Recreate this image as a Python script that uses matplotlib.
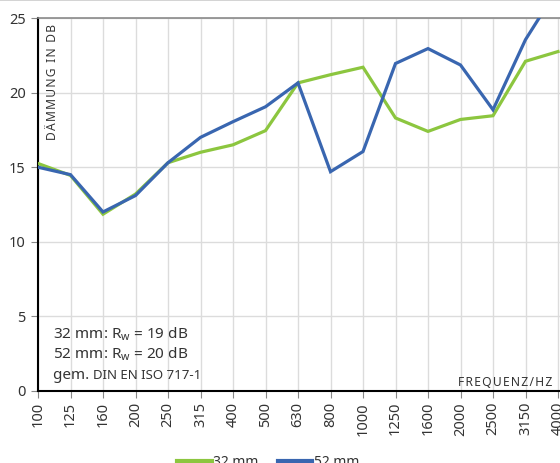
import matplotlib.pyplot as plt
from matplotlib.lines import Line2D

plt.rcParams['font.family'] = ['Noto Sans', 'DejaVu Sans']
plt.rcParams['mathtext.fontset'] = 'custom'
plt.rcParams['mathtext.rm'] = 'Noto Sans'
plt.rcParams['mathtext.it'] = 'Noto Sans'

freqs = ['100', '125', '160', '200', '250', '315', '400', '500', '630', '800',
         '1000', '1250', '1600', '2000', '2500', '3150', '4000']
mm32 = [15.25, 14.45, 11.85, 13.2, 15.3, 16.0, 16.5, 17.45, 20.65, 21.2,
        21.7, 18.3, 17.4, 18.2, 18.45, 22.1, 22.75]
mm52 = [15.0, 14.5, 12.0, 13.1, 15.3, 17.0, 18.05, 19.05, 20.65, 14.7,
        16.05, 21.95, 22.95, 21.85, 18.85, 23.55, 27.0]

green = '#8cc63f'
blue = '#3966b0'
txt = '#333333'


def spaced(s, sep='\u200a'):
    # fake letter spacing with hair spaces
    return sep.join(s)


fig = plt.figure(figsize=(5.6, 4.63), dpi=100)
ax = fig.add_axes([38 / 560, 1 - 391 / 463, 1 - 38 / 560, (391 - 18) / 463])

x = range(len(freqs))
ax.plot(x, mm32, color=green, lw=2.3, solid_joinstyle='miter', zorder=3)
ax.plot(x, mm52, color=blue, lw=2.3, solid_joinstyle='miter', zorder=4)

ax.set_xlim(0, 16 + 2 / 32.5)
ax.set_ylim(0, 25)
ax.set_xticks(list(x))
ax.set_xticklabels(freqs, rotation=90, fontsize=10.5, color=txt)
ax.set_yticks([0, 5, 10, 15, 20, 25])
ax.set_yticklabels(['0', '5', '10', '15', '20', '25'], fontsize=10.5, color=txt)
ax.tick_params(axis='both', length=5, width=0.8, color='#888888', pad=4)
ax.tick_params(axis='x', pad=3)
ax.grid(True, color='#dcdcdc', lw=1)
ax.set_axisbelow(True)

ax.spines['left'].set_color('black')
ax.spines['left'].set_linewidth(1.5)
ax.spines['bottom'].set_color('black')
ax.spines['bottom'].set_linewidth(1.5)
ax.spines['top'].set_color('#8a8a8a')
ax.spines['top'].set_linewidth(1.2)
ax.spines['right'].set_visible(False)

# thin line at the very top of the image
fig.add_artist(Line2D([0, 1], [0.999, 0.999], color='#cccccc', lw=1.2,
                      transform=fig.transFigure))

ax.text(52 / 560, 1 - 24 / 463, spaced('DÄMMUNG IN DB'),
        transform=fig.transFigure, rotation=90, ha='center', va='top',
        fontsize=8.7, color=txt)
ax.text(552 / 560, 1 - 386 / 463, spaced('FREQUENZ/HZ'), transform=fig.transFigure,
        ha='right', va='baseline', fontsize=8.7, color=txt)

ax.text(53 / 560, 1 - 339 / 463, r'32 mm: R$_\mathregular{w}$ = 19 dB',
        transform=fig.transFigure, fontsize=11, color=txt, va='baseline')
ax.text(53 / 560, 1 - 359 / 463, r'52 mm: R$_\mathregular{w}$ = 20 dB',
        transform=fig.transFigure, fontsize=11, color=txt, va='baseline')
t = ax.text(53 / 560, 1 - 379 / 463, 'gem. ', transform=fig.transFigure,
            fontsize=11, color=txt, va='baseline')
fig.canvas.draw()
bb = t.get_window_extent(fig.canvas.get_renderer())
ax.text(bb.x1 / fig.bbox.width, 1 - 379 / 463, 'DIN EN ISO 717-1',
        transform=fig.transFigure, fontsize=9.5, color=txt, va='baseline')

handles = [Line2D([], [], color=green, lw=3), Line2D([], [], color=blue, lw=3)]
fig.legend(handles, ['32 mm', '52 mm'], loc='center',
           bbox_to_anchor=(268 / 560, 1 - 462 / 463), ncol=2, frameon=False,
           fontsize=10, handlelength=2.5, handletextpad=0.1, columnspacing=1.4,
           labelcolor=txt)

fig.savefig('out.png', dpi=100)
